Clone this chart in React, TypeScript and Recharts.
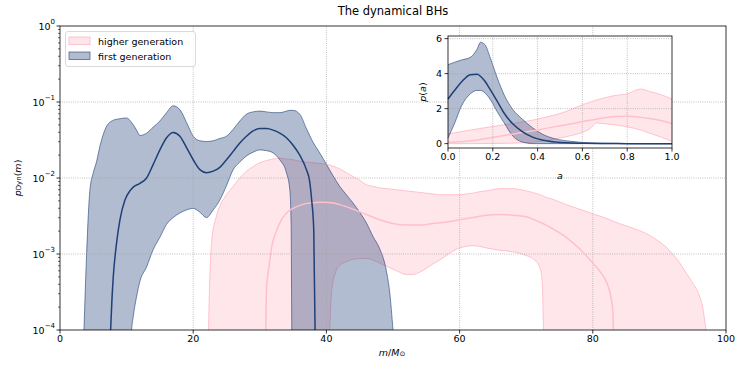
import React from 'react'
import { ComposedChart, Area, Line, XAxis, YAxis, ReferenceLine } from 'recharts'

const FIRST = '#1f3f77'
const HIGHER = '#ffc0cb'
const FONT = '"DejaVu Sans", sans-serif'
// log10 value for "below the 1e-4 floor" (clipped away)
const BELOW = -6

// ---- main panel: log10 p_Dyn(m) ----
const firstGenMass = [3.6, 4, 4.5, 5, 5.5, 6, 7, 8, 9, 10, 10.75, 11, 11.5, 12, 13, 14, 15, 16, 17, 18, 19, 20, 21, 22, 23, 24, 25, 26, 27, 28, 29, 30, 31, 32, 33, 34, 34.5, 34.7, 34.8, 35, 36, 37, 38, 39, 40, 41, 42, 43, 44, 45, 46, 47, 48, 49, 49.5, 50]
const firstGenHighLog = [-4, -2.99, -2.15, -1.93, -1.78, -1.58, -1.32, -1.24, -1.22, -1.21, -1.27, -1.3, -1.37, -1.44, -1.41, -1.33, -1.25, -1.14, -1.05, -1.1, -1.27, -1.45, -1.51, -1.52, -1.51, -1.48, -1.45, -1.36, -1.25, -1.16, -1.13, -1.12, -1.13, -1.14, -1.14, -1.12, -1.11, -1.11, -1.11, -1.11, -1.16, -1.35, -1.53, -1.67, -1.82, -1.97, -2.11, -2.22, -2.33, -2.45, -2.59, -2.77, -2.93, -3.22, -3.5, -4]
const firstGenLowLog = [BELOW, BELOW, BELOW, BELOW, BELOW, BELOW, BELOW, BELOW, BELOW, BELOW, -4, -3.82, -3.56, -3.36, -3.17, -2.94, -2.78, -2.61, -2.52, -2.46, -2.42, -2.4, -2.45, -2.52, -2.42, -2.29, -2.1, -1.89, -1.79, -1.71, -1.66, -1.63, -1.64, -1.67, -1.76, -1.93, -2.15, -2.6, -4, BELOW, BELOW, BELOW, BELOW, BELOW, BELOW, BELOW, BELOW, BELOW, BELOW, BELOW, BELOW, BELOW, BELOW, BELOW, BELOW, BELOW]
const firstGenMedMass = [7.6, 7.8, 8, 8.5, 9, 9.75, 10.5, 11, 12, 13, 14, 15, 16, 17, 18, 19, 20, 21, 22, 23, 24, 25, 26, 27, 28, 29, 30, 31, 32, 33, 34, 35, 36, 37, 37.5, 37.8, 38.1, 38.3]
const firstGenMedLog = [-4, -3.6, -3.3, -2.85, -2.55, -2.29, -2.17, -2.12, -2.07, -2.0, -1.82, -1.63, -1.47, -1.4, -1.45, -1.6, -1.76, -1.89, -1.93, -1.91, -1.86, -1.76, -1.65, -1.54, -1.45, -1.38, -1.35, -1.35, -1.37, -1.41, -1.47, -1.57, -1.7, -1.89, -2.05, -2.3, -2.68, -4]

const higherGenMass = [22.3, 22.5, 22.8, 23.5, 24, 25, 26, 27, 28, 29, 30, 31, 32, 33, 34, 35, 36, 38, 40, 40.5, 40.8, 41.5, 42, 43, 44, 45, 46, 47, 48, 49, 50, 51, 52, 53, 54, 55, 56, 57, 58, 59, 60, 61, 62, 63, 64, 66, 68, 70, 71, 72, 72.4, 72.6, 74, 76, 78, 80, 82, 84, 86, 88, 90, 91, 92, 93, 94, 95, 96, 96.5, 96.8, 97]
const higherGenHighLog = [-4, -3.3, -2.81, -2.5, -2.37, -2.22, -2.11, -2.0, -1.91, -1.85, -1.8, -1.77, -1.75, -1.74, -1.75, -1.76, -1.78, -1.8, -1.82, -1.83, -1.84, -1.86, -1.88, -1.93, -1.98, -2.03, -2.09, -2.11, -2.13, -2.14, -2.15, -2.16, -2.17, -2.18, -2.19, -2.2, -2.21, -2.22, -2.22, -2.22, -2.22, -2.21, -2.2, -2.18, -2.17, -2.14, -2.14, -2.17, -2.19, -2.22, -2.23, -2.24, -2.28, -2.35, -2.41, -2.47, -2.53, -2.6, -2.66, -2.73, -2.84, -2.91, -3.0, -3.11, -3.25, -3.38, -3.55, -3.7, -3.88, -4]
const higherGenLowLog = [BELOW, BELOW, BELOW, BELOW, BELOW, BELOW, BELOW, BELOW, BELOW, BELOW, BELOW, BELOW, BELOW, BELOW, BELOW, BELOW, BELOW, BELOW, BELOW, -4, -3.48, -3.21, -3.15, -3.1, -3.07, -3.06, -3.06, -3.08, -3.12, -3.16, -3.2, -3.24, -3.27, -3.27, -3.24, -3.19, -3.13, -3.08, -3.02, -2.96, -2.92, -2.9, -2.89, -2.9, -2.92, -2.95, -2.97, -3.02, -3.06, -3.17, -3.35, -4, BELOW, BELOW, BELOW, BELOW, BELOW, BELOW, BELOW, BELOW, BELOW, BELOW, BELOW, BELOW, BELOW, BELOW, BELOW, BELOW, BELOW, BELOW]
const higherGenMedMass = [30.9, 31, 31.4, 31.8, 32.4, 33, 34, 35, 36, 37.5, 39.5, 41, 42, 44, 46, 48, 50, 52, 54, 56, 58, 60, 62, 64, 66, 68, 70, 72, 73, 74, 76, 78, 79, 80, 81, 82, 82.5, 83, 83.1]
const higherGenMedLog = [-4, -3.48, -3.15, -2.9, -2.72, -2.59, -2.46, -2.4, -2.36, -2.33, -2.32, -2.33, -2.35, -2.41, -2.48, -2.55, -2.6, -2.62, -2.62, -2.6, -2.58, -2.55, -2.52, -2.49, -2.48, -2.49, -2.51, -2.58, -2.62, -2.67, -2.78, -2.93, -3.02, -3.12, -3.22, -3.36, -3.48, -3.75, -4]

const xTicks = [0, 20, 40, 60, 80, 100]
const yMajor = [1e-4, 1e-3, 1e-2, 1e-1, 1]
const yTicks = [1]
for (let d = -4; d < 0; d++) for (let k = 1; k < 10; k++) yTicks.push(k * 10 ** d)

// ---- inset: p(a) ----
const firstSpinA = [0, 0.03, 0.06, 0.1, 0.13, 0.145, 0.165, 0.19, 0.22, 0.25, 0.29, 0.33, 0.38, 0.42, 0.48, 0.55, 0.62, 0.7, 0.8, 0.9, 1.0]
const firstSpinHigh = [4.51, 4.65, 4.78, 4.93, 5.4, 5.79, 5.65, 4.85, 3.75, 2.8, 1.94, 1.42, 0.88, 0.55, 0.27, 0.13, 0.05, 0.02, 0.005, 0, 0]
const firstSpinLow = [0.32, 1.18, 2.15, 2.85, 3.04, 3.04, 2.9, 2.5, 1.82, 1.2, 0.42, 0.1, 0, 0, 0, 0, 0, 0, 0, 0, 0]
const firstSpinMed = [2.55, 3.05, 3.52, 3.94, 3.96, 3.85, 3.56, 3.06, 2.42, 1.75, 1.12, 0.7, 0.36, 0.21, 0.09, 0.04, 0.015, 0.005, 0, 0, 0]

const higherSpinA = [0, 0.1, 0.2, 0.3, 0.4, 0.45, 0.5, 0.55, 0.6, 0.64, 0.66, 0.7, 0.75, 0.8, 0.86, 0.9, 0.95, 1.0]
const higherSpinHigh = [0.55, 0.78, 0.98, 1.17, 1.4, 1.55, 1.72, 1.95, 2.22, 2.4, 2.48, 2.62, 2.76, 2.84, 3.12, 2.98, 2.8, 2.55]
const higherSpinLow = [0, 0, 0.01, 0.03, 0.11, 0.2, 0.32, 0.46, 0.64, 0.92, 1.18, 1.14, 1.06, 0.96, 0.78, 0.6, 0.38, 0.13]
const higherSpinMed = [0.08, 0.15, 0.35, 0.57, 0.78, 0.9, 1.02, 1.13, 1.26, 1.35, 1.39, 1.48, 1.55, 1.56, 1.5, 1.43, 1.32, 1.14]

const aTicks = [0, 0.2, 0.4, 0.6, 0.8, 1.0]
const pTicks = [0, 2, 4, 6]

const firstGenBand = firstGenMass.map((m, i) => ({ m, p: [10 ** firstGenLowLog[i], 10 ** firstGenHighLog[i]] }))
const firstGenMed = firstGenMedMass.map((m, i) => ({ m, p: 10 ** firstGenMedLog[i] }))
const higherGenBand = higherGenMass.map((m, i) => ({ m, p: [10 ** higherGenLowLog[i], 10 ** higherGenHighLog[i]] }))
const higherGenMed = higherGenMedMass.map((m, i) => ({ m, p: 10 ** higherGenMedLog[i] }))

const firstSpinBand = firstSpinA.map((a, i) => ({ a, p: [firstSpinLow[i], firstSpinHigh[i]], med: firstSpinMed[i] }))
const higherSpinBand = higherSpinA.map((a, i) => ({ a, p: [higherSpinLow[i], higherSpinHigh[i]], med: higherSpinMed[i] }))

const grid = { stroke: '#a0a0a0', strokeWidth: 0.8, strokeDasharray: '0.8 1.4' }
const higherFill = { fill: HIGHER, fillOpacity: 0.4, stroke: '#ffb8c6', strokeOpacity: 0.85, strokeWidth: 1 }
const firstFill = { fill: FIRST, fillOpacity: 0.35, stroke: FIRST, strokeOpacity: 0.75, strokeWidth: 0.8 }

function LogTick(props: any) {
  const { x, y, payload } = props
  const e = Math.log10(payload.value)
  const major = Math.abs(e - Math.round(e)) < 1e-6
  const exp = Math.round(e)
  return (
    <g>
      <line x1={x} x2={x - (major ? 3.5 : 2)} y1={y} y2={y} stroke="#000" strokeWidth={major ? 0.8 : 0.6} />
      {major && (
        <text x={x - 5} y={y} textAnchor="end" dominantBaseline="central" fontSize={9.5} fill="#000">
          10
          <tspan dy={-4.5} fontSize={7}>
            {exp === 0 ? '0' : '\u2212' + Math.abs(exp)}
          </tspan>
        </text>
      )}
    </g>
  )
}

export default function App() {
  return (
    <div style={{ position: 'absolute', left: 0, top: 0, width: 747, height: 374, fontFamily: FONT, background: '#fff' }}>
      <ComposedChart width={747} height={374} margin={{ top: 26, right: 21, bottom: 14, left: 15 }}>
        <XAxis
          dataKey="m"
          type="number"
          domain={[0, 100]}
          ticks={xTicks}
          interval={0}
          allowDataOverflow
          axisLine={false}
          stroke="#000"
          tickLine={{ strokeWidth: 0.8 }}
          tickSize={3.5}
          tickMargin={2}
          tick={{ fill: '#000', fontSize: 9.5 }}
          height={30}
        />
        <YAxis
          type="number"
          scale="log"
          domain={[1e-4, 1]}
          ticks={yTicks}
          interval={0}
          allowDataOverflow
          axisLine={false}
          tickLine={false}
          tickSize={0}
          tickMargin={0}
          tick={(p: any) => <LogTick {...p} />}
          width={45}
        />
        {[20, 40, 60, 80].map((v) => (
          <ReferenceLine key={'x' + v} x={v} {...grid} />
        ))}
        {yMajor.slice(1, 4).map((v) => (
          <ReferenceLine key={'y' + v} y={v} {...grid} />
        ))}
        <Area data={higherGenBand} dataKey="p" type="monotone" {...higherFill} isAnimationActive={false} />
        <Line data={higherGenMed} dataKey="p" type="monotone" stroke={HIGHER} strokeWidth={1.5} dot={false} isAnimationActive={false} />
        <Area data={firstGenBand} dataKey="p" type="monotone" {...firstFill} isAnimationActive={false} />
        <Line data={firstGenMed} dataKey="p" type="monotone" stroke={FIRST} strokeWidth={1.5} dot={false} isAnimationActive={false} />
      </ComposedChart>

      <div style={{ position: 'absolute', left: 448, top: 36, width: 224, height: 112, background: '#fff' }} />
      <div style={{ position: 'absolute', left: 400, top: 30 }}>
        <ComposedChart width={290} height={160} margin={{ top: 6, right: 18, bottom: 0, left: 0 }}>
          <XAxis
            dataKey="a"
            type="number"
            domain={[0, 1]}
            ticks={aTicks}
            interval={0}
            axisLine={false}
            stroke="#000"
            tickLine={{ strokeWidth: 0.8 }}
            tickSize={3.5}
            tickMargin={2}
            tickFormatter={(v: number) => v.toFixed(1)}
            tick={{ fill: '#000', fontSize: 9.5 }}
            height={42}
          />
          <YAxis
            type="number"
            domain={[-0.25, 6.15]}
            ticks={pTicks}
            interval={0}
            allowDataOverflow
            axisLine={false}
            stroke="#000"
            tickLine={{ strokeWidth: 0.8 }}
            tickSize={3.5}
            tickMargin={2.5}
            tick={{ fill: '#000', fontSize: 9.5 }}
            width={48}
          />
          {[0.2, 0.4, 0.6, 0.8].map((v) => (
            <ReferenceLine key={'a' + v} x={v} {...grid} />
          ))}
          {[2, 4, 6].map((v) => (
            <ReferenceLine key={'p' + v} y={v} {...grid} />
          ))}
          <Area data={higherSpinBand} dataKey="p" type="monotone" {...higherFill} isAnimationActive={false} />
          <Line data={higherSpinBand} dataKey="med" type="monotone" stroke={HIGHER} strokeWidth={1.5} dot={false} isAnimationActive={false} />
          <Area data={firstSpinBand} dataKey="p" type="monotone" {...firstFill} isAnimationActive={false} />
          <Line data={firstSpinBand} dataKey="med" type="monotone" stroke={FIRST} strokeWidth={1.5} dot={false} isAnimationActive={false} />
        </ComposedChart>
      </div>

      <svg width={747} height={374} style={{ position: 'absolute', left: 0, top: 0, pointerEvents: 'none' }} fontFamily={FONT}>
        <rect x={60} y={26} width={666} height={304} fill="none" stroke="#000" strokeWidth={0.8} />
        <rect x={448} y={36} width={224} height={112} fill="none" stroke="#000" strokeWidth={0.8} />

        <text x={393} y={11} textAnchor="middle" dominantBaseline="central" fontSize={11.5} fill="#000">
          The dynamical BHs
        </text>
        <text x={392} y={352} textAnchor="middle" dominantBaseline="central" fontSize={9.5} fill="#000">
          <tspan fontStyle="italic">m</tspan>/<tspan fontStyle="italic">M</tspan>
          <tspan fontSize={7} dy={2}>⊙</tspan>
        </text>
        <text x={17} y={178} transform="rotate(-90 17 178)" textAnchor="middle" dominantBaseline="central" fontSize={9.5} fill="#000">
          <tspan fontStyle="italic">p</tspan>
          <tspan fontSize={7} dy={2}>Dyn</tspan>
          <tspan dy={-2}>(</tspan>
          <tspan fontStyle="italic">m</tspan>)
        </text>
        <text x={422} y={92} transform="rotate(-90 422 92)" textAnchor="middle" dominantBaseline="central" fontSize={9.5} fill="#000">
          <tspan fontStyle="italic">p</tspan>(<tspan fontStyle="italic">a</tspan>)
        </text>
        <text x={560} y={175} textAnchor="middle" dominantBaseline="central" fontSize={9.5} fontStyle="italic" fill="#000">
          a
        </text>

        <rect x={65.5} y={31.5} width={130} height={35} rx={2.5} fill="#fff" fillOpacity={0.8} stroke="#d0d0d0" strokeWidth={0.8} />
        <rect x={69} y={37} width={21} height={7.5} {...higherFill} />
        <text x={98} y={41} dominantBaseline="central" fontSize={9.5} fill="#000">
          higher generation
        </text>
        <rect x={69} y={52} width={21} height={7.5} {...firstFill} />
        <text x={98} y={56} dominantBaseline="central" fontSize={9.5} fill="#000">
          first generation
        </text>
      </svg>
    </div>
  )
}
